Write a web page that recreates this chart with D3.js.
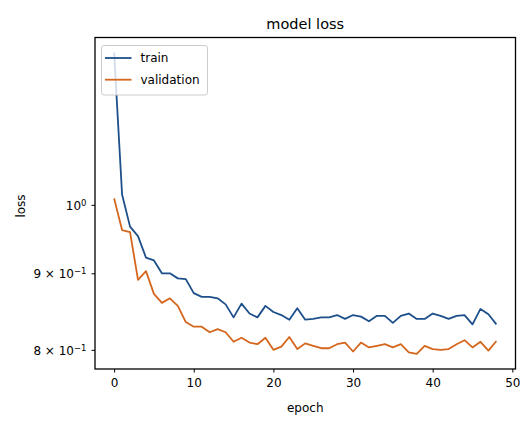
<!DOCTYPE html>
<html>
<head>
<meta charset="utf-8">
<script src="https://cdn.jsdelivr.net/npm/d3@7"></script>
<style>
  body { margin: 0; background: #fff; }
  svg text { font-family: "DejaVu Sans", sans-serif; fill: #000; }
</style>
</head>
<body>
<div id="chart"></div>
<script>
// ### Data ###
var epochs = d3.range(49);
var trainLoss = [1.264, 1.016, 0.967, 0.953, 0.922, 0.918, 0.900, 0.900, 0.893, 0.892,
                 0.873, 0.868, 0.868, 0.866, 0.858, 0.841, 0.859, 0.846, 0.841, 0.856,
                 0.848, 0.844, 0.838, 0.853, 0.838, 0.839, 0.841, 0.841, 0.844, 0.839,
                 0.844, 0.842, 0.836, 0.843, 0.843, 0.834, 0.843, 0.846, 0.839, 0.839,
                 0.846, 0.843, 0.839, 0.843, 0.844, 0.832, 0.852, 0.845, 0.832];
var valLoss   = [1.010, 0.962, 0.959, 0.891, 0.903, 0.872, 0.860, 0.866, 0.856, 0.835,
                 0.829, 0.829, 0.822, 0.826, 0.822, 0.810, 0.815, 0.809, 0.807, 0.815,
                 0.800, 0.804, 0.816, 0.801, 0.808, 0.805, 0.802, 0.802, 0.807, 0.809,
                 0.798, 0.809, 0.803, 0.805, 0.807, 0.803, 0.807, 0.797, 0.795, 0.805,
                 0.801, 0.800, 0.801, 0.807, 0.812, 0.803, 0.810, 0.799, 0.811];
var xTicks = [0, 10, 20, 30, 40, 50];
var yTicks = [0.8, 0.9, 1.0];
var yTickLabels = [["8 \u00d7 10", "\u22121"], ["9 \u00d7 10", "\u22121"], ["10", "0"]];
var seriesNames = ["train", "validation"];
var seriesColors = ["#1d4f8a", "#d4661d"];

// ### Layout ###
var W = 523, H = 429;
var margin = {top: 37.5, right: 7.5, bottom: 60, left: 95};
var width = W - margin.left - margin.right,
    height = H - margin.top - margin.bottom;

var svg = d3.select("#chart").append("svg")
    .attr("width", W)
    .attr("height", H);

var g = svg.append("g")
    .attr("transform", "translate(" + margin.left + "," + margin.top + ")");

// x scale with matplotlib-like 5% padding
var xExt = d3.extent(epochs), xPad = (xExt[1] - xExt[0]) * 0.05;
var x = d3.scaleLinear()
    .domain([xExt[0] - xPad, xExt[1] + xPad])
    .range([0, width]);

// log y scale, padded in log space
var allY = trainLoss.concat(valLoss);
var lo = Math.log10(d3.min(allY)), hi = Math.log10(d3.max(allY)), lp = (hi - lo) * 0.05;
var y = d3.scaleLog()
    .domain([Math.pow(10, lo - lp), Math.pow(10, hi + lp)])
    .range([height, 0]);

// lines
var line = d3.line()
    .x(function(d, i) { return x(epochs[i]); })
    .y(function(d) { return y(d); });

[trainLoss, valLoss].forEach(function(s, k) {
    g.append("path")
        .datum(s)
        .attr("fill", "none")
        .attr("stroke", seriesColors[k])
        .attr("stroke-width", 1.8)
        .attr("stroke-linejoin", "round")
        .attr("d", line);
});

// x axis
var xAxis = g.append("g")
    .attr("transform", "translate(0," + height + ")")
    .call(d3.axisBottom(x).tickValues(xTicks).tickSize(3.5).tickPadding(6).tickFormat(d3.format("d")));
xAxis.select(".domain").remove();
xAxis.selectAll("text").style("font-size", "12px");
xAxis.selectAll("line").attr("stroke", "#000").attr("stroke-width", 1);

// y axis (custom labels with superscripts)
var yAxis = g.append("g")
    .call(d3.axisLeft(y).tickValues(yTicks).tickSize(3.5).tickPadding(5).tickFormat(""));
yAxis.select(".domain").remove();
yAxis.selectAll("line").attr("stroke", "#000").attr("stroke-width", 1);
yAxis.selectAll(".tick").each(function(d, i) {
    var t = d3.select(this).select("text")
        .style("font-size", "12px")
        .attr("dy", "0.36em")
        .text(null);
    t.append("tspan").text(yTickLabels[i][0]);
    t.append("tspan")
        .attr("dy", "-0.45em")
        .style("font-size", "8.5px")
        .text(yTickLabels[i][1]);
});

// frame
g.append("rect")
    .attr("width", width)
    .attr("height", height)
    .attr("fill", "none")
    .attr("stroke", "#000")
    .attr("stroke-width", 1.3);

// titles
svg.append("text")
    .attr("x", margin.left + width / 2)
    .attr("y", 29)
    .attr("text-anchor", "middle")
    .style("font-size", "14.5px")
    .text("model loss");

svg.append("text")
    .attr("x", margin.left + width / 2)
    .attr("y", 412)
    .attr("text-anchor", "middle")
    .style("font-size", "12px")
    .text("epoch");

svg.append("text")
    .attr("transform", "translate(25," + 206 + ") rotate(-90)")
    .attr("text-anchor", "middle")
    .style("font-size", "12px")
    .text("loss");

// legend
var legend = g.append("g")
    .attr("transform", "translate(6.5,8)");
legend.append("rect")
    .attr("width", 106)
    .attr("height", 49.5)
    .attr("rx", 2.5)
    .attr("fill", "#fff")
    .attr("fill-opacity", 0.8)
    .attr("stroke", "#cccccc")
    .attr("stroke-width", 1);
seriesNames.forEach(function(name, k) {
    var row = legend.append("g")
        .attr("transform", "translate(0," + (12.5 + k * 21.7) + ")");
    row.append("line")
        .attr("x1", 3.5).attr("x2", 30)
        .attr("stroke", seriesColors[k])
        .attr("stroke-width", 1.8);
    row.append("text")
        .attr("x", 39)
        .attr("dy", "0.36em")
        .style("font-size", "12px")
        .text(name);
});
</script>
</body>
</html>
